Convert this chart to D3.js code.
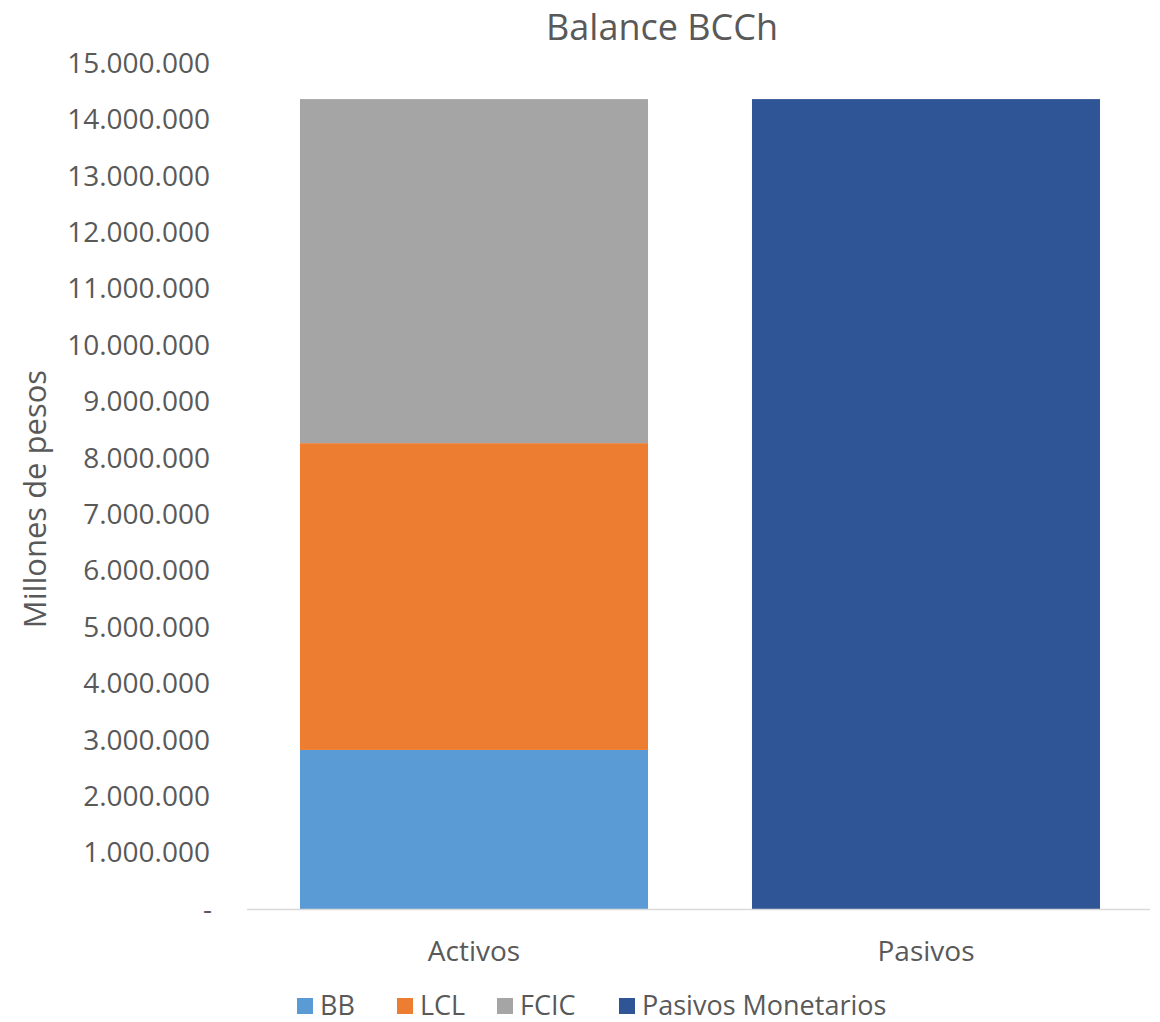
<!DOCTYPE html>
<html><head><meta charset="utf-8">
<script src="https://cdn.jsdelivr.net/npm/d3@7"></script>
<style>body{margin:0;background:#fff;} text{font-family:"Open Sans",sans-serif;fill:#595959;}</style>
</head><body>
<svg id="c" width="1160" height="1022"></svg>
<script>
const categories = ["Activos", "Pasivos"];
const seriesNames = ["BB", "LCL", "FCIC", "Pasivos Monetarios"];
const bbValues = [2820000, 0];
const lclValues = [5440000, 0];
const fcicValues = [6100000, 0];
const pasivosMonetariosValues = [0, 14360000];
const yTicks = [0,1000000,2000000,3000000,4000000,5000000,6000000,7000000,8000000,9000000,10000000,11000000,12000000,13000000,14000000,15000000];
const colors = ["#5b9bd5", "#ed7d31", "#a5a5a5", "#2f5597"];

const rows = categories.map((c,i)=>({cat:c, "BB":bbValues[i], "LCL":lclValues[i], "FCIC":fcicValues[i], "Pasivos Monetarios":pasivosMonetariosValues[i]}));
const svg = d3.select("#c");
const x = d3.scaleBand().domain(categories).range([248,1152]).paddingInner(0.23).paddingOuter(0.115);
const y = d3.scaleLinear().domain([0,15000000]).range([909,63]);
const fmt = v => v===0 ? "-" : d3.format(",")(v).replace(/,/g,".");

const stack = d3.stack().keys(seriesNames)(rows);
svg.append("g").selectAll("g").data(stack).join("g").attr("fill",(d,i)=>colors[i])
  .selectAll("rect").data(d=>d.filter(p=>p[1]-p[0]>0)).join("rect")
  .attr("x",d=>x(d.data.cat)).attr("width",x.bandwidth())
  .attr("y",d=>y(d[1])).attr("height",d=>y(d[0])-y(d[1]));

// x axis line
svg.append("line").attr("x1",247).attr("x2",1150).attr("y1",909.5).attr("y2",909.5).attr("stroke","#d9d9d9").attr("stroke-width",1.5);

// y tick labels
svg.append("g").selectAll("text").data(yTicks).join("text")
  .attr("x",d=>d===0?212:210).attr("y",d=>y(d)).attr("dy","0.35em")
  .attr("text-anchor","end").style("font-size","28px").text(fmt);

// x labels
svg.append("g").selectAll("text").data(categories).join("text")
  .attr("x",d=>x(d)+x.bandwidth()/2).attr("y",951).attr("dy","0.35em")
  .attr("text-anchor","middle").style("font-size","28px").text(d=>d);

// title
svg.append("text").attr("x",662).attr("y",27).attr("dy","0.35em").attr("text-anchor","middle").style("font-size","36px").text("Balance BCCh");

// y label
svg.append("text").attr("transform","translate(35,499) rotate(-90)").attr("dy","0.35em").attr("text-anchor","middle").style("font-size","31px").text("Millones de pesos");

// legend
const legX = [297, 397, 497, 619];
const lg = svg.append("g").selectAll("g").data(seriesNames).join("g").attr("transform",(d,i)=>`translate(${legX[i]},1010)`);
lg.append("rect").attr("x",0).attr("y",-12).attr("width",16).attr("height",16).attr("fill",(d,i)=>colors[i]);
lg.append("text").attr("x",23).attr("y",5).style("font-size","27px").text(d=>d);
</script>
</body></html>
